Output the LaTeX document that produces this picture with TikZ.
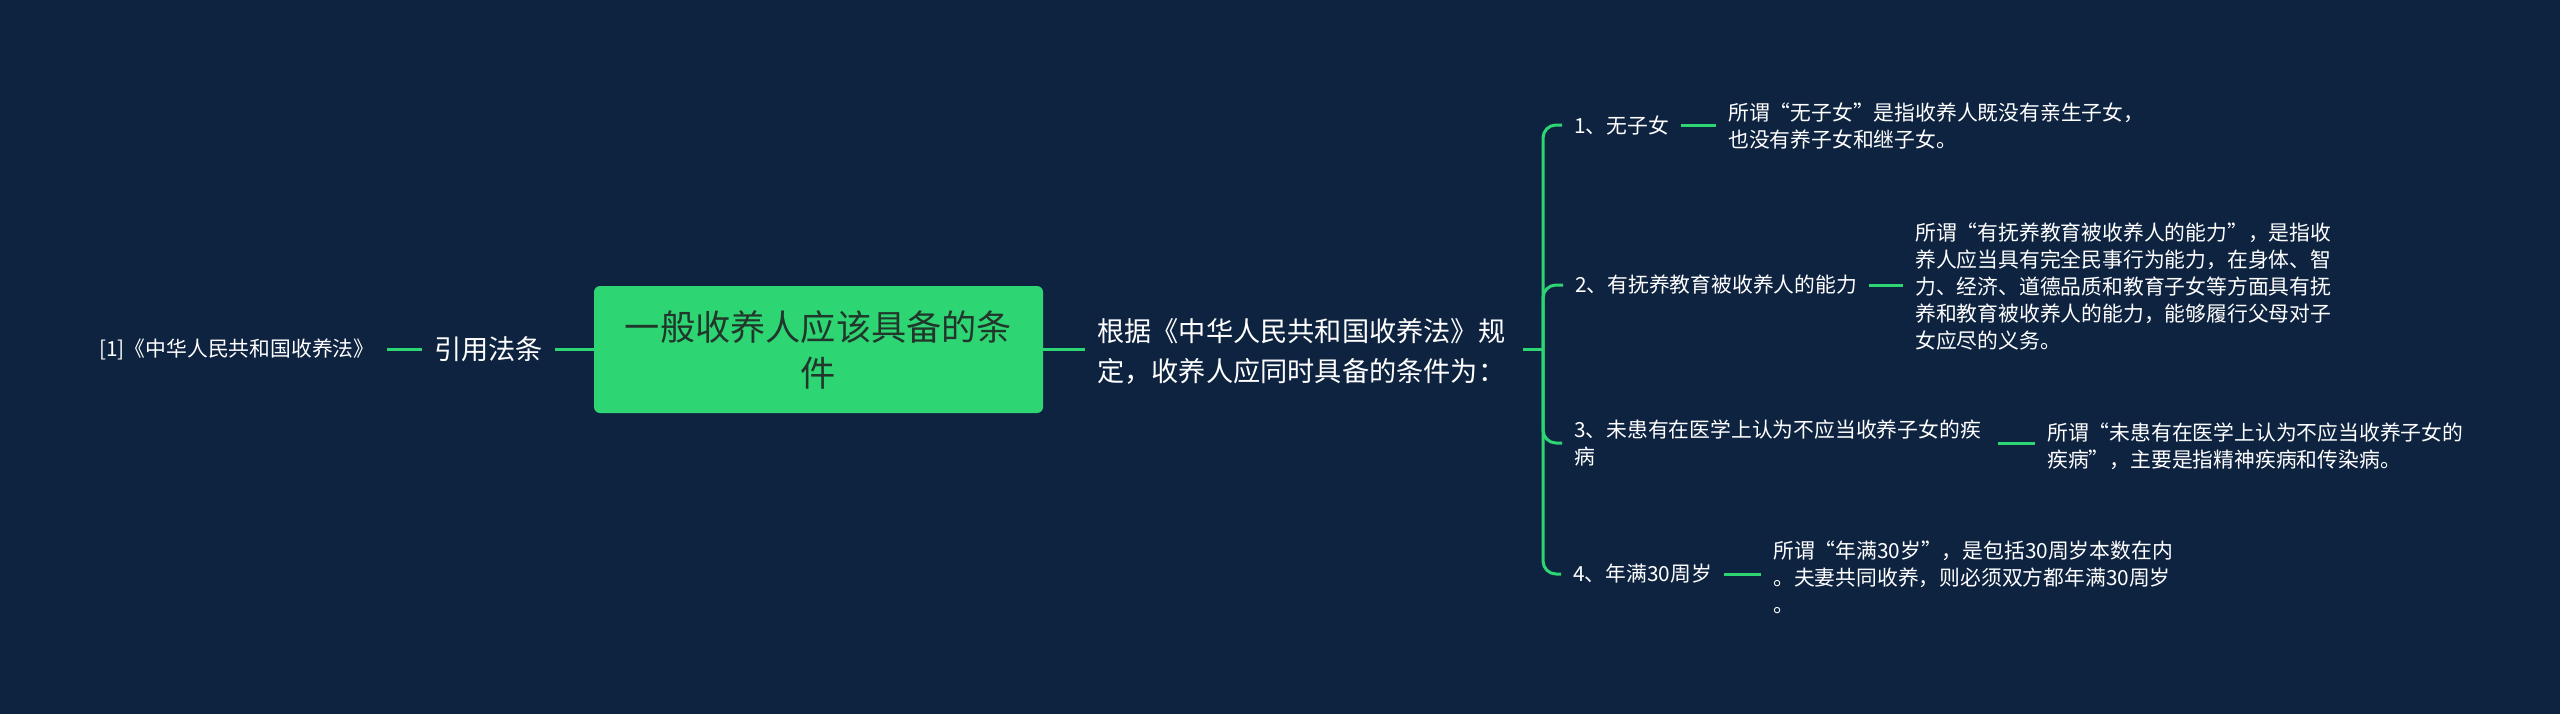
\documentclass[tikz,border=0pt]{standalone}
\usepackage{fontspec}
\setmainfont{Noto Sans CJK SC}
\definecolor{bg}{HTML}{0E2340}
\definecolor{grn}{HTML}{2ED573}
\definecolor{roottxt}{HTML}{22372B}
\begin{document}
\begin{tikzpicture}[x=1pt,y=-1pt,
  conn/.style={draw=grn, line width=3pt},
  txt/.style={text=white, inner xsep=12pt, inner ysep=2pt, anchor=west, align=left},
  fsmall/.style={font=\fontsize{20.8}{27}\selectfont},
  fmid/.style={font=\fontsize{27.2}{40}\selectfont},
  rootbox/.style={fill=grn, rounded corners=6pt, minimum width=449pt, minimum height=127pt,
    align=center, text=roottxt, inner sep=0pt, font=\fontsize{35.2}{46}\selectfont},
]
\useasboundingbox (0,0) rectangle (2560,713);
\fill[bg] (-10,-10) rectangle (2570,723);

\node[rootbox] (root) at (818.5,349.5) {一般收养人应该具备的条\\件};
\node[txt,fmid] (cite) at (422,349.5) {引用法条};
\node[txt,fsmall] (ref) at (87,349.5) {[1]《中华人民共和国收养法》};
\draw[conn] (ref.east) -- (ref.east -| cite.west);
\draw[conn] (cite.east) -- (cite.east -| root.west);

\node[txt,fmid,text width=414pt] (basis) at (1085,351) {根据《中华人民共和国收养法》规\\定，收养人应同时具备的条件为：};
\coordinate (hub) at (1543,349.5);
\draw[conn] (root.east) -- (root.east -| basis.west);
\draw[conn] (basis.east |- hub) -- (hub);

\node[txt,fsmall] (c1) at (1562,125) {1、无子女};
\node[txt,fsmall] (c2) at (1563,285) {2、有抚养教育被收养人的能力};
\node[txt,fsmall,text width=412pt] (c3) at (1562,443) {3、未患有在医学上认为不应当收养子女的疾\\病};
\node[txt,fsmall] (c4) at (1561,574) {4、年满30周岁};

\foreach \c in {c1,c2,c3,c4} \draw[conn, rounded corners=13pt] (hub) |- (\c.west);

\node[txt,fsmall] (l1) at (1716,126) {所谓“无子女”是指收养人既没有亲生子女，\\也没有养子女和继子女。};
\node[txt,fsmall] (l2) at (1903,287) {所谓“有抚养教育被收养人的能力”，是指收\\养人应当具有完全民事行为能力，在身体、智\\力、经济、道德品质和教育子女等方面具有抚\\养和教育被收养人的能力，能够履行父母对子\\女应尽的义务。};
\node[txt,fsmall] (l3) at (2035,446) {所谓“未患有在医学上认为不应当收养子女的\\疾病”，主要是指精神疾病和传染病。};
\node[txt,fsmall] (l4) at (1761,577) {所谓“年满30岁”，是包括30周岁本数在内\\。夫妻共同收养，则必须双方都年满30周岁\\。};

\draw[conn] (c1.east) -- (c1.east -| l1.west);
\draw[conn] (c2.east) -- (c2.east -| l2.west);
\draw[conn] (c3.east) -- (c3.east -| l3.west);
\draw[conn] (c4.east) -- (c4.east -| l4.west);
\end{tikzpicture}
\end{document}
